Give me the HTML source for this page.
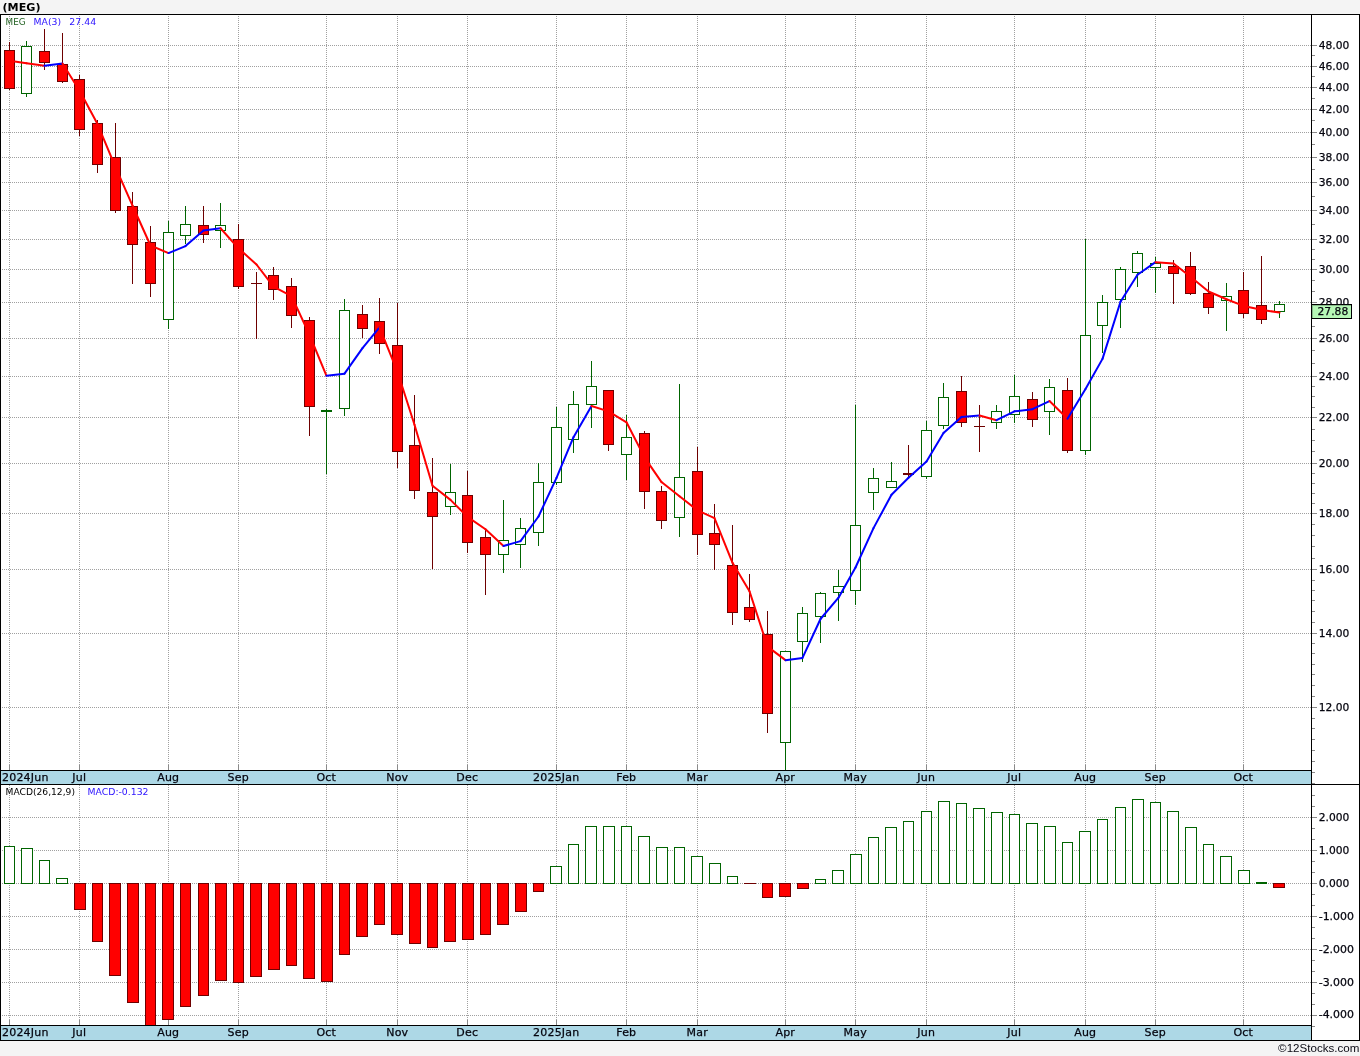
<!DOCTYPE html>
<html lang="en"><head><meta charset="utf-8"><title>(MEG)</title>
<style>html,body{margin:0;padding:0;background:#f4f4f4;overflow:hidden}svg{display:block}</style>
</head><body>
<svg width="1360" height="1056" viewBox="0 0 1360 1056" style="display:block">
<rect x="0" y="0" width="1360" height="1056" fill="#f4f4f4"/>
<rect x="0" y="14" width="1360" height="1027" fill="#ffffff" shape-rendering="crispEdges"/>
<rect x="1" y="771" width="1310" height="13" fill="#add8e6" shape-rendering="crispEdges"/>
<rect x="1" y="1026" width="1310" height="14" fill="#add8e6" shape-rendering="crispEdges"/>
<g stroke="#a0a0a0" stroke-width="1" stroke-dasharray="1,1" shape-rendering="crispEdges" fill="none">
<line x1="0" y1="45.5" x2="1311" y2="45.5"/>
<line x1="0" y1="66.5" x2="1311" y2="66.5"/>
<line x1="0" y1="87.5" x2="1311" y2="87.5"/>
<line x1="0" y1="109.5" x2="1311" y2="109.5"/>
<line x1="0" y1="132.5" x2="1311" y2="132.5"/>
<line x1="0" y1="157.5" x2="1311" y2="157.5"/>
<line x1="0" y1="182.5" x2="1311" y2="182.5"/>
<line x1="0" y1="210.5" x2="1311" y2="210.5"/>
<line x1="0" y1="239.5" x2="1311" y2="239.5"/>
<line x1="0" y1="269.5" x2="1311" y2="269.5"/>
<line x1="0" y1="302.5" x2="1311" y2="302.5"/>
<line x1="0" y1="338.5" x2="1311" y2="338.5"/>
<line x1="0" y1="376.5" x2="1311" y2="376.5"/>
<line x1="0" y1="417.5" x2="1311" y2="417.5"/>
<line x1="0" y1="463.5" x2="1311" y2="463.5"/>
<line x1="0" y1="513.5" x2="1311" y2="513.5"/>
<line x1="0" y1="569.5" x2="1311" y2="569.5"/>
<line x1="0" y1="633.5" x2="1311" y2="633.5"/>
<line x1="0" y1="707.5" x2="1311" y2="707.5"/>
<line x1="9.5" y1="16" x2="9.5" y2="765"/>
<line x1="9.5" y1="785" x2="9.5" y2="1020"/>
<line x1="79.5" y1="16" x2="79.5" y2="765"/>
<line x1="79.5" y1="785" x2="79.5" y2="1020"/>
<line x1="168.5" y1="16" x2="168.5" y2="765"/>
<line x1="168.5" y1="785" x2="168.5" y2="1020"/>
<line x1="238.5" y1="16" x2="238.5" y2="765"/>
<line x1="238.5" y1="785" x2="238.5" y2="1020"/>
<line x1="326.5" y1="16" x2="326.5" y2="765"/>
<line x1="326.5" y1="785" x2="326.5" y2="1020"/>
<line x1="397.5" y1="16" x2="397.5" y2="765"/>
<line x1="397.5" y1="785" x2="397.5" y2="1020"/>
<line x1="467.5" y1="16" x2="467.5" y2="765"/>
<line x1="467.5" y1="785" x2="467.5" y2="1020"/>
<line x1="556.5" y1="16" x2="556.5" y2="765"/>
<line x1="556.5" y1="785" x2="556.5" y2="1020"/>
<line x1="626.5" y1="16" x2="626.5" y2="765"/>
<line x1="626.5" y1="785" x2="626.5" y2="1020"/>
<line x1="697.5" y1="16" x2="697.5" y2="765"/>
<line x1="697.5" y1="785" x2="697.5" y2="1020"/>
<line x1="785.5" y1="16" x2="785.5" y2="765"/>
<line x1="785.5" y1="785" x2="785.5" y2="1020"/>
<line x1="855.5" y1="16" x2="855.5" y2="765"/>
<line x1="855.5" y1="785" x2="855.5" y2="1020"/>
<line x1="926.5" y1="16" x2="926.5" y2="765"/>
<line x1="926.5" y1="785" x2="926.5" y2="1020"/>
<line x1="1014.5" y1="16" x2="1014.5" y2="765"/>
<line x1="1014.5" y1="785" x2="1014.5" y2="1020"/>
<line x1="1085.5" y1="16" x2="1085.5" y2="765"/>
<line x1="1085.5" y1="785" x2="1085.5" y2="1020"/>
<line x1="1155.5" y1="16" x2="1155.5" y2="765"/>
<line x1="1155.5" y1="785" x2="1155.5" y2="1020"/>
<line x1="1243.5" y1="16" x2="1243.5" y2="765"/>
<line x1="1243.5" y1="785" x2="1243.5" y2="1020"/>
<line x1="0" y1="817.5" x2="1311" y2="817.5"/>
<line x1="0" y1="850.5" x2="1311" y2="850.5"/>
<line x1="0" y1="883.5" x2="1311" y2="883.5"/>
<line x1="0" y1="916.5" x2="1311" y2="916.5"/>
<line x1="0" y1="949.5" x2="1311" y2="949.5"/>
<line x1="0" y1="982.5" x2="1311" y2="982.5"/>
<line x1="0" y1="1015.5" x2="1311" y2="1015.5"/>
</g>
<g stroke="#8a8a8a" stroke-width="1" shape-rendering="crispEdges">
<line x1="9.5" y1="765" x2="9.5" y2="770"/>
<line x1="9.5" y1="1020" x2="9.5" y2="1025"/>
<line x1="79.5" y1="765" x2="79.5" y2="770"/>
<line x1="79.5" y1="1020" x2="79.5" y2="1025"/>
<line x1="168.5" y1="765" x2="168.5" y2="770"/>
<line x1="168.5" y1="1020" x2="168.5" y2="1025"/>
<line x1="238.5" y1="765" x2="238.5" y2="770"/>
<line x1="238.5" y1="1020" x2="238.5" y2="1025"/>
<line x1="326.5" y1="765" x2="326.5" y2="770"/>
<line x1="326.5" y1="1020" x2="326.5" y2="1025"/>
<line x1="397.5" y1="765" x2="397.5" y2="770"/>
<line x1="397.5" y1="1020" x2="397.5" y2="1025"/>
<line x1="467.5" y1="765" x2="467.5" y2="770"/>
<line x1="467.5" y1="1020" x2="467.5" y2="1025"/>
<line x1="556.5" y1="765" x2="556.5" y2="770"/>
<line x1="556.5" y1="1020" x2="556.5" y2="1025"/>
<line x1="626.5" y1="765" x2="626.5" y2="770"/>
<line x1="626.5" y1="1020" x2="626.5" y2="1025"/>
<line x1="697.5" y1="765" x2="697.5" y2="770"/>
<line x1="697.5" y1="1020" x2="697.5" y2="1025"/>
<line x1="785.5" y1="765" x2="785.5" y2="770"/>
<line x1="785.5" y1="1020" x2="785.5" y2="1025"/>
<line x1="855.5" y1="765" x2="855.5" y2="770"/>
<line x1="855.5" y1="1020" x2="855.5" y2="1025"/>
<line x1="926.5" y1="765" x2="926.5" y2="770"/>
<line x1="926.5" y1="1020" x2="926.5" y2="1025"/>
<line x1="1014.5" y1="765" x2="1014.5" y2="770"/>
<line x1="1014.5" y1="1020" x2="1014.5" y2="1025"/>
<line x1="1085.5" y1="765" x2="1085.5" y2="770"/>
<line x1="1085.5" y1="1020" x2="1085.5" y2="1025"/>
<line x1="1155.5" y1="765" x2="1155.5" y2="770"/>
<line x1="1155.5" y1="1020" x2="1155.5" y2="1025"/>
<line x1="1243.5" y1="765" x2="1243.5" y2="770"/>
<line x1="1243.5" y1="1020" x2="1243.5" y2="1025"/>
<line x1="1312" y1="45.5" x2="1317" y2="45.5"/>
<line x1="1312" y1="66.5" x2="1317" y2="66.5"/>
<line x1="1312" y1="87.5" x2="1317" y2="87.5"/>
<line x1="1312" y1="109.5" x2="1317" y2="109.5"/>
<line x1="1312" y1="132.5" x2="1317" y2="132.5"/>
<line x1="1312" y1="157.5" x2="1317" y2="157.5"/>
<line x1="1312" y1="182.5" x2="1317" y2="182.5"/>
<line x1="1312" y1="210.5" x2="1317" y2="210.5"/>
<line x1="1312" y1="239.5" x2="1317" y2="239.5"/>
<line x1="1312" y1="269.5" x2="1317" y2="269.5"/>
<line x1="1312" y1="302.5" x2="1317" y2="302.5"/>
<line x1="1312" y1="338.5" x2="1317" y2="338.5"/>
<line x1="1312" y1="376.5" x2="1317" y2="376.5"/>
<line x1="1312" y1="417.5" x2="1317" y2="417.5"/>
<line x1="1312" y1="463.5" x2="1317" y2="463.5"/>
<line x1="1312" y1="513.5" x2="1317" y2="513.5"/>
<line x1="1312" y1="569.5" x2="1317" y2="569.5"/>
<line x1="1312" y1="633.5" x2="1317" y2="633.5"/>
<line x1="1312" y1="707.5" x2="1317" y2="707.5"/>
<line x1="1312" y1="55.5" x2="1315" y2="55.5"/>
<line x1="1312" y1="76.5" x2="1315" y2="76.5"/>
<line x1="1312" y1="98.5" x2="1315" y2="98.5"/>
<line x1="1312" y1="120.5" x2="1315" y2="120.5"/>
<line x1="1312" y1="144.5" x2="1315" y2="144.5"/>
<line x1="1312" y1="169.5" x2="1315" y2="169.5"/>
<line x1="1312" y1="196.5" x2="1315" y2="196.5"/>
<line x1="1312" y1="224.5" x2="1315" y2="224.5"/>
<line x1="1312" y1="249.5" x2="1315" y2="249.5"/>
<line x1="1312" y1="259.5" x2="1315" y2="259.5"/>
<line x1="1312" y1="280.5" x2="1315" y2="280.5"/>
<line x1="1312" y1="291.5" x2="1315" y2="291.5"/>
<line x1="1312" y1="314.5" x2="1315" y2="314.5"/>
<line x1="1312" y1="326.5" x2="1315" y2="326.5"/>
<line x1="1312" y1="350.5" x2="1315" y2="350.5"/>
<line x1="1312" y1="363.5" x2="1315" y2="363.5"/>
<line x1="1312" y1="386.5" x2="1315" y2="386.5"/>
<line x1="1312" y1="396.5" x2="1315" y2="396.5"/>
<line x1="1312" y1="407.5" x2="1315" y2="407.5"/>
<line x1="1312" y1="429.5" x2="1315" y2="429.5"/>
<line x1="1312" y1="440.5" x2="1315" y2="440.5"/>
<line x1="1312" y1="451.5" x2="1315" y2="451.5"/>
<line x1="1312" y1="473.5" x2="1315" y2="473.5"/>
<line x1="1312" y1="483.5" x2="1315" y2="483.5"/>
<line x1="1312" y1="493.5" x2="1315" y2="493.5"/>
<line x1="1312" y1="503.5" x2="1315" y2="503.5"/>
<line x1="1312" y1="524.5" x2="1315" y2="524.5"/>
<line x1="1312" y1="535.5" x2="1315" y2="535.5"/>
<line x1="1312" y1="546.5" x2="1315" y2="546.5"/>
<line x1="1312" y1="558.5" x2="1315" y2="558.5"/>
<line x1="1312" y1="580.5" x2="1315" y2="580.5"/>
<line x1="1312" y1="590.5" x2="1315" y2="590.5"/>
<line x1="1312" y1="600.5" x2="1315" y2="600.5"/>
<line x1="1312" y1="611.5" x2="1315" y2="611.5"/>
<line x1="1312" y1="622.5" x2="1315" y2="622.5"/>
<line x1="1312" y1="643.5" x2="1315" y2="643.5"/>
<line x1="1312" y1="653.5" x2="1315" y2="653.5"/>
<line x1="1312" y1="664.5" x2="1315" y2="664.5"/>
<line x1="1312" y1="674.5" x2="1315" y2="674.5"/>
<line x1="1312" y1="685.5" x2="1315" y2="685.5"/>
<line x1="1312" y1="696.5" x2="1315" y2="696.5"/>
<line x1="1312" y1="718.5" x2="1315" y2="718.5"/>
<line x1="1312" y1="728.5" x2="1315" y2="728.5"/>
<line x1="1312" y1="739.5" x2="1315" y2="739.5"/>
<line x1="1312" y1="750.5" x2="1315" y2="750.5"/>
<line x1="1312" y1="761.5" x2="1315" y2="761.5"/>
<line x1="1312" y1="772.5" x2="1315" y2="772.5"/>
<line x1="1312" y1="783.5" x2="1315" y2="783.5"/>
<line x1="1312" y1="817.5" x2="1317" y2="817.5"/>
<line x1="1312" y1="850.5" x2="1317" y2="850.5"/>
<line x1="1312" y1="883.5" x2="1317" y2="883.5"/>
<line x1="1312" y1="916.5" x2="1317" y2="916.5"/>
<line x1="1312" y1="949.5" x2="1317" y2="949.5"/>
<line x1="1312" y1="982.5" x2="1317" y2="982.5"/>
<line x1="1312" y1="1015.5" x2="1317" y2="1015.5"/>
<line x1="1312" y1="795.5" x2="1315" y2="795.5"/>
<line x1="1312" y1="806.5" x2="1315" y2="806.5"/>
<line x1="1312" y1="828.5" x2="1315" y2="828.5"/>
<line x1="1312" y1="839.5" x2="1315" y2="839.5"/>
<line x1="1312" y1="861.5" x2="1315" y2="861.5"/>
<line x1="1312" y1="872.5" x2="1315" y2="872.5"/>
<line x1="1312" y1="894.5" x2="1315" y2="894.5"/>
<line x1="1312" y1="905.5" x2="1315" y2="905.5"/>
<line x1="1312" y1="927.5" x2="1315" y2="927.5"/>
<line x1="1312" y1="938.5" x2="1315" y2="938.5"/>
<line x1="1312" y1="960.5" x2="1315" y2="960.5"/>
<line x1="1312" y1="971.5" x2="1315" y2="971.5"/>
<line x1="1312" y1="993.5" x2="1315" y2="993.5"/>
<line x1="1312" y1="1004.5" x2="1315" y2="1004.5"/>
<line x1="1312" y1="1026.5" x2="1315" y2="1026.5"/>
</g>
<g shape-rendering="crispEdges" stroke-width="1">
<rect x="4.5" y="846.5" width="10" height="37" fill="#ffffff" stroke="#006400"/>
<rect x="21.5" y="848.5" width="11" height="35" fill="#ffffff" stroke="#006400"/>
<rect x="39.5" y="860.5" width="10" height="23" fill="#ffffff" stroke="#006400"/>
<rect x="56.5" y="878.5" width="11" height="5" fill="#ffffff" stroke="#006400"/>
<rect x="74.5" y="883.5" width="11" height="26" fill="#ff0000" stroke="#6e0000"/>
<rect x="92.5" y="883.5" width="10" height="58" fill="#ff0000" stroke="#6e0000"/>
<rect x="109.5" y="883.5" width="11" height="92" fill="#ff0000" stroke="#6e0000"/>
<rect x="127.5" y="883.5" width="11" height="119" fill="#ff0000" stroke="#6e0000"/>
<rect x="145.5" y="883.5" width="10" height="142" fill="#ff0000" stroke="#6e0000"/>
<rect x="162.5" y="883.5" width="11" height="136" fill="#ff0000" stroke="#6e0000"/>
<rect x="180.5" y="883.5" width="10" height="123" fill="#ff0000" stroke="#6e0000"/>
<rect x="198.5" y="883.5" width="10" height="112" fill="#ff0000" stroke="#6e0000"/>
<rect x="215.5" y="883.5" width="11" height="97" fill="#ff0000" stroke="#6e0000"/>
<rect x="233.5" y="883.5" width="10" height="99" fill="#ff0000" stroke="#6e0000"/>
<rect x="250.5" y="883.5" width="11" height="93" fill="#ff0000" stroke="#6e0000"/>
<rect x="268.5" y="883.5" width="11" height="86" fill="#ff0000" stroke="#6e0000"/>
<rect x="286.5" y="883.5" width="10" height="82" fill="#ff0000" stroke="#6e0000"/>
<rect x="303.5" y="883.5" width="11" height="95" fill="#ff0000" stroke="#6e0000"/>
<rect x="321.5" y="883.5" width="11" height="98" fill="#ff0000" stroke="#6e0000"/>
<rect x="339.5" y="883.5" width="10" height="71" fill="#ff0000" stroke="#6e0000"/>
<rect x="356.5" y="883.5" width="11" height="53" fill="#ff0000" stroke="#6e0000"/>
<rect x="374.5" y="883.5" width="10" height="41" fill="#ff0000" stroke="#6e0000"/>
<rect x="391.5" y="883.5" width="11" height="51" fill="#ff0000" stroke="#6e0000"/>
<rect x="409.5" y="883.5" width="11" height="60" fill="#ff0000" stroke="#6e0000"/>
<rect x="427.5" y="883.5" width="10" height="64" fill="#ff0000" stroke="#6e0000"/>
<rect x="444.5" y="883.5" width="11" height="58" fill="#ff0000" stroke="#6e0000"/>
<rect x="462.5" y="883.5" width="11" height="56" fill="#ff0000" stroke="#6e0000"/>
<rect x="480.5" y="883.5" width="10" height="51" fill="#ff0000" stroke="#6e0000"/>
<rect x="497.5" y="883.5" width="11" height="41" fill="#ff0000" stroke="#6e0000"/>
<rect x="515.5" y="883.5" width="11" height="28" fill="#ff0000" stroke="#6e0000"/>
<rect x="533.5" y="883.5" width="10" height="8" fill="#ff0000" stroke="#6e0000"/>
<rect x="550.5" y="866.5" width="11" height="17" fill="#ffffff" stroke="#006400"/>
<rect x="568.5" y="844.5" width="10" height="39" fill="#ffffff" stroke="#006400"/>
<rect x="585.5" y="826.5" width="11" height="57" fill="#ffffff" stroke="#006400"/>
<rect x="603.5" y="826.5" width="11" height="57" fill="#ffffff" stroke="#006400"/>
<rect x="621.5" y="826.5" width="10" height="57" fill="#ffffff" stroke="#006400"/>
<rect x="638.5" y="836.5" width="11" height="47" fill="#ffffff" stroke="#006400"/>
<rect x="656.5" y="847.5" width="11" height="36" fill="#ffffff" stroke="#006400"/>
<rect x="674.5" y="847.5" width="10" height="36" fill="#ffffff" stroke="#006400"/>
<rect x="691.5" y="856.5" width="11" height="27" fill="#ffffff" stroke="#006400"/>
<rect x="709.5" y="863.5" width="11" height="20" fill="#ffffff" stroke="#006400"/>
<rect x="727.5" y="876.5" width="10" height="7" fill="#ffffff" stroke="#006400"/>
<rect x="744" y="883" width="12" height="1" fill="#6e0000" stroke="none"/>
<rect x="762.5" y="883.5" width="10" height="14" fill="#ff0000" stroke="#6e0000"/>
<rect x="779.5" y="883.5" width="11" height="13" fill="#ff0000" stroke="#6e0000"/>
<rect x="797.5" y="883.5" width="11" height="5" fill="#ff0000" stroke="#6e0000"/>
<rect x="815.5" y="879.5" width="10" height="4" fill="#ffffff" stroke="#006400"/>
<rect x="832.5" y="870.5" width="11" height="13" fill="#ffffff" stroke="#006400"/>
<rect x="850.5" y="854.5" width="11" height="29" fill="#ffffff" stroke="#006400"/>
<rect x="868.5" y="837.5" width="10" height="46" fill="#ffffff" stroke="#006400"/>
<rect x="885.5" y="827.5" width="11" height="56" fill="#ffffff" stroke="#006400"/>
<rect x="903.5" y="821.5" width="10" height="62" fill="#ffffff" stroke="#006400"/>
<rect x="921.5" y="811.5" width="10" height="72" fill="#ffffff" stroke="#006400"/>
<rect x="938.5" y="801.5" width="11" height="82" fill="#ffffff" stroke="#006400"/>
<rect x="956.5" y="803.5" width="10" height="80" fill="#ffffff" stroke="#006400"/>
<rect x="973.5" y="808.5" width="11" height="75" fill="#ffffff" stroke="#006400"/>
<rect x="991.5" y="812.5" width="11" height="71" fill="#ffffff" stroke="#006400"/>
<rect x="1009.5" y="814.5" width="10" height="69" fill="#ffffff" stroke="#006400"/>
<rect x="1026.5" y="823.5" width="11" height="60" fill="#ffffff" stroke="#006400"/>
<rect x="1044.5" y="826.5" width="11" height="57" fill="#ffffff" stroke="#006400"/>
<rect x="1062.5" y="842.5" width="10" height="41" fill="#ffffff" stroke="#006400"/>
<rect x="1079.5" y="831.5" width="11" height="52" fill="#ffffff" stroke="#006400"/>
<rect x="1097.5" y="819.5" width="10" height="64" fill="#ffffff" stroke="#006400"/>
<rect x="1115.5" y="807.5" width="10" height="76" fill="#ffffff" stroke="#006400"/>
<rect x="1132.5" y="799.5" width="11" height="84" fill="#ffffff" stroke="#006400"/>
<rect x="1150.5" y="802.5" width="10" height="81" fill="#ffffff" stroke="#006400"/>
<rect x="1167.5" y="811.5" width="11" height="72" fill="#ffffff" stroke="#006400"/>
<rect x="1185.5" y="827.5" width="11" height="56" fill="#ffffff" stroke="#006400"/>
<rect x="1203.5" y="844.5" width="10" height="39" fill="#ffffff" stroke="#006400"/>
<rect x="1220.5" y="856.5" width="11" height="27" fill="#ffffff" stroke="#006400"/>
<rect x="1238.5" y="870.5" width="11" height="13" fill="#ffffff" stroke="#006400"/>
<rect x="1256" y="882" width="11" height="2" fill="#006400" stroke="none"/>
<rect x="1273.5" y="883.5" width="11" height="4" fill="#ff0000" stroke="#6e0000"/>
</g>
<g shape-rendering="crispEdges" stroke-width="1">
<rect x="9" y="42" width="1" height="48" fill="#6e0000" stroke="none"/>
<rect x="4.5" y="50.5" width="10" height="38" fill="#ff0000" stroke="#6e0000"/>
<rect x="26" y="41" width="1" height="56" fill="#006400" stroke="none"/>
<rect x="21.5" y="46.5" width="10" height="47" fill="#ffffff" stroke="#006400"/>
<rect x="44" y="29" width="1" height="41" fill="#6e0000" stroke="none"/>
<rect x="39.5" y="51.5" width="10" height="11" fill="#ff0000" stroke="#6e0000"/>
<rect x="62" y="33" width="1" height="50" fill="#6e0000" stroke="none"/>
<rect x="57.5" y="64.5" width="10" height="17" fill="#ff0000" stroke="#6e0000"/>
<rect x="79" y="75" width="1" height="61" fill="#6e0000" stroke="none"/>
<rect x="74.5" y="79.5" width="10" height="50" fill="#ff0000" stroke="#6e0000"/>
<rect x="97" y="120" width="1" height="53" fill="#6e0000" stroke="none"/>
<rect x="92.5" y="123.5" width="10" height="41" fill="#ff0000" stroke="#6e0000"/>
<rect x="115" y="123" width="1" height="90" fill="#6e0000" stroke="none"/>
<rect x="110.5" y="157.5" width="10" height="53" fill="#ff0000" stroke="#6e0000"/>
<rect x="132" y="192" width="1" height="92" fill="#6e0000" stroke="none"/>
<rect x="127.5" y="206.5" width="10" height="38" fill="#ff0000" stroke="#6e0000"/>
<rect x="150" y="226" width="1" height="71" fill="#6e0000" stroke="none"/>
<rect x="145.5" y="242.5" width="10" height="41" fill="#ff0000" stroke="#6e0000"/>
<rect x="168" y="221" width="1" height="108" fill="#006400" stroke="none"/>
<rect x="163.5" y="232.5" width="10" height="87" fill="#ffffff" stroke="#006400"/>
<rect x="185" y="206" width="1" height="38" fill="#006400" stroke="none"/>
<rect x="180.5" y="224.5" width="10" height="11" fill="#ffffff" stroke="#006400"/>
<rect x="203" y="206" width="1" height="37" fill="#6e0000" stroke="none"/>
<rect x="198.5" y="225.5" width="10" height="9" fill="#ff0000" stroke="#6e0000"/>
<rect x="220" y="203" width="1" height="45" fill="#006400" stroke="none"/>
<rect x="215.5" y="225.5" width="10" height="5" fill="#ffffff" stroke="#006400"/>
<rect x="238" y="224" width="1" height="65" fill="#6e0000" stroke="none"/>
<rect x="233.5" y="239.5" width="10" height="47" fill="#ff0000" stroke="#6e0000"/>
<rect x="256" y="272" width="1" height="67" fill="#6e0000" stroke="none"/>
<rect x="251" y="283" width="11" height="1" fill="#6e0000" stroke="none"/>
<rect x="273" y="267" width="1" height="33" fill="#6e0000" stroke="none"/>
<rect x="268.5" y="275.5" width="10" height="14" fill="#ff0000" stroke="#6e0000"/>
<rect x="291" y="278" width="1" height="50" fill="#6e0000" stroke="none"/>
<rect x="286.5" y="286.5" width="10" height="29" fill="#ff0000" stroke="#6e0000"/>
<rect x="309" y="317" width="1" height="119" fill="#6e0000" stroke="none"/>
<rect x="304.5" y="320.5" width="10" height="86" fill="#ff0000" stroke="#6e0000"/>
<rect x="326" y="409" width="1" height="65" fill="#006400" stroke="none"/>
<rect x="321" y="410" width="11" height="2" fill="#006400" stroke="none"/>
<rect x="344" y="299" width="1" height="117" fill="#006400" stroke="none"/>
<rect x="339.5" y="310.5" width="10" height="98" fill="#ffffff" stroke="#006400"/>
<rect x="362" y="305" width="1" height="33" fill="#6e0000" stroke="none"/>
<rect x="357.5" y="314.5" width="10" height="14" fill="#ff0000" stroke="#6e0000"/>
<rect x="379" y="298" width="1" height="56" fill="#6e0000" stroke="none"/>
<rect x="374.5" y="321.5" width="10" height="22" fill="#ff0000" stroke="#6e0000"/>
<rect x="397" y="303" width="1" height="165" fill="#6e0000" stroke="none"/>
<rect x="392.5" y="345.5" width="10" height="106" fill="#ff0000" stroke="#6e0000"/>
<rect x="414" y="395" width="1" height="104" fill="#6e0000" stroke="none"/>
<rect x="409.5" y="445.5" width="10" height="45" fill="#ff0000" stroke="#6e0000"/>
<rect x="432" y="458" width="1" height="111" fill="#6e0000" stroke="none"/>
<rect x="427.5" y="492.5" width="10" height="24" fill="#ff0000" stroke="#6e0000"/>
<rect x="450" y="464" width="1" height="51" fill="#006400" stroke="none"/>
<rect x="445.5" y="492.5" width="10" height="14" fill="#ffffff" stroke="#006400"/>
<rect x="467" y="471" width="1" height="82" fill="#6e0000" stroke="none"/>
<rect x="462.5" y="495.5" width="10" height="47" fill="#ff0000" stroke="#6e0000"/>
<rect x="485" y="530" width="1" height="65" fill="#6e0000" stroke="none"/>
<rect x="480.5" y="537.5" width="10" height="17" fill="#ff0000" stroke="#6e0000"/>
<rect x="503" y="500" width="1" height="73" fill="#006400" stroke="none"/>
<rect x="498.5" y="540.5" width="10" height="14" fill="#ffffff" stroke="#006400"/>
<rect x="520" y="518" width="1" height="50" fill="#006400" stroke="none"/>
<rect x="515.5" y="528.5" width="10" height="16" fill="#ffffff" stroke="#006400"/>
<rect x="538" y="463" width="1" height="83" fill="#006400" stroke="none"/>
<rect x="533.5" y="482.5" width="10" height="50" fill="#ffffff" stroke="#006400"/>
<rect x="556" y="407" width="1" height="78" fill="#006400" stroke="none"/>
<rect x="551.5" y="427.5" width="10" height="55" fill="#ffffff" stroke="#006400"/>
<rect x="573" y="391" width="1" height="62" fill="#006400" stroke="none"/>
<rect x="568.5" y="404.5" width="10" height="35" fill="#ffffff" stroke="#006400"/>
<rect x="591" y="361" width="1" height="67" fill="#006400" stroke="none"/>
<rect x="586.5" y="386.5" width="10" height="18" fill="#ffffff" stroke="#006400"/>
<rect x="608" y="390" width="1" height="61" fill="#6e0000" stroke="none"/>
<rect x="603.5" y="390.5" width="10" height="54" fill="#ff0000" stroke="#6e0000"/>
<rect x="626" y="415" width="1" height="65" fill="#006400" stroke="none"/>
<rect x="621.5" y="437.5" width="10" height="17" fill="#ffffff" stroke="#006400"/>
<rect x="644" y="431" width="1" height="78" fill="#6e0000" stroke="none"/>
<rect x="639.5" y="433.5" width="10" height="58" fill="#ff0000" stroke="#6e0000"/>
<rect x="661" y="486" width="1" height="43" fill="#6e0000" stroke="none"/>
<rect x="656.5" y="491.5" width="10" height="29" fill="#ff0000" stroke="#6e0000"/>
<rect x="679" y="384" width="1" height="153" fill="#006400" stroke="none"/>
<rect x="674.5" y="477.5" width="10" height="40" fill="#ffffff" stroke="#006400"/>
<rect x="697" y="447" width="1" height="108" fill="#6e0000" stroke="none"/>
<rect x="692.5" y="471.5" width="10" height="63" fill="#ff0000" stroke="#6e0000"/>
<rect x="714" y="504" width="1" height="66" fill="#6e0000" stroke="none"/>
<rect x="709.5" y="533.5" width="10" height="11" fill="#ff0000" stroke="#6e0000"/>
<rect x="732" y="525" width="1" height="100" fill="#6e0000" stroke="none"/>
<rect x="727.5" y="565.5" width="10" height="47" fill="#ff0000" stroke="#6e0000"/>
<rect x="749" y="574" width="1" height="48" fill="#6e0000" stroke="none"/>
<rect x="744.5" y="607.5" width="10" height="12" fill="#ff0000" stroke="#6e0000"/>
<rect x="767" y="611" width="1" height="122" fill="#6e0000" stroke="none"/>
<rect x="762.5" y="634.5" width="10" height="79" fill="#ff0000" stroke="#6e0000"/>
<rect x="785" y="651" width="1" height="119" fill="#006400" stroke="none"/>
<rect x="780.5" y="651.5" width="10" height="91" fill="#ffffff" stroke="#006400"/>
<rect x="802" y="607" width="1" height="55" fill="#006400" stroke="none"/>
<rect x="797.5" y="613.5" width="10" height="28" fill="#ffffff" stroke="#006400"/>
<rect x="820" y="592" width="1" height="51" fill="#006400" stroke="none"/>
<rect x="815.5" y="593.5" width="10" height="23" fill="#ffffff" stroke="#006400"/>
<rect x="838" y="570" width="1" height="51" fill="#006400" stroke="none"/>
<rect x="833.5" y="586.5" width="10" height="6" fill="#ffffff" stroke="#006400"/>
<rect x="855" y="405" width="1" height="200" fill="#006400" stroke="none"/>
<rect x="850.5" y="525.5" width="10" height="65" fill="#ffffff" stroke="#006400"/>
<rect x="873" y="468" width="1" height="42" fill="#006400" stroke="none"/>
<rect x="868.5" y="478.5" width="10" height="14" fill="#ffffff" stroke="#006400"/>
<rect x="891" y="462" width="1" height="26" fill="#006400" stroke="none"/>
<rect x="886.5" y="481.5" width="10" height="6" fill="#ffffff" stroke="#006400"/>
<rect x="908" y="445" width="1" height="32" fill="#6e0000" stroke="none"/>
<rect x="903" y="473" width="11" height="2" fill="#6e0000" stroke="none"/>
<rect x="926" y="421" width="1" height="58" fill="#006400" stroke="none"/>
<rect x="921.5" y="430.5" width="10" height="46" fill="#ffffff" stroke="#006400"/>
<rect x="943" y="383" width="1" height="46" fill="#006400" stroke="none"/>
<rect x="938.5" y="397.5" width="10" height="28" fill="#ffffff" stroke="#006400"/>
<rect x="961" y="376" width="1" height="51" fill="#6e0000" stroke="none"/>
<rect x="956.5" y="391.5" width="10" height="31" fill="#ff0000" stroke="#6e0000"/>
<rect x="979" y="405" width="1" height="47" fill="#6e0000" stroke="none"/>
<rect x="974" y="426" width="11" height="1" fill="#6e0000" stroke="none"/>
<rect x="996" y="405" width="1" height="24" fill="#006400" stroke="none"/>
<rect x="991.5" y="411.5" width="10" height="11" fill="#ffffff" stroke="#006400"/>
<rect x="1014" y="375" width="1" height="48" fill="#006400" stroke="none"/>
<rect x="1009.5" y="396.5" width="10" height="18" fill="#ffffff" stroke="#006400"/>
<rect x="1032" y="392" width="1" height="35" fill="#6e0000" stroke="none"/>
<rect x="1027.5" y="399.5" width="10" height="20" fill="#ff0000" stroke="#6e0000"/>
<rect x="1049" y="379" width="1" height="56" fill="#006400" stroke="none"/>
<rect x="1044.5" y="387.5" width="10" height="24" fill="#ffffff" stroke="#006400"/>
<rect x="1067" y="378" width="1" height="75" fill="#6e0000" stroke="none"/>
<rect x="1062.5" y="390.5" width="10" height="60" fill="#ff0000" stroke="#6e0000"/>
<rect x="1085" y="239" width="1" height="216" fill="#006400" stroke="none"/>
<rect x="1080.5" y="335.5" width="10" height="115" fill="#ffffff" stroke="#006400"/>
<rect x="1102" y="295" width="1" height="58" fill="#006400" stroke="none"/>
<rect x="1097.5" y="302.5" width="10" height="23" fill="#ffffff" stroke="#006400"/>
<rect x="1120" y="267" width="1" height="61" fill="#006400" stroke="none"/>
<rect x="1115.5" y="269.5" width="10" height="30" fill="#ffffff" stroke="#006400"/>
<rect x="1137" y="251" width="1" height="36" fill="#006400" stroke="none"/>
<rect x="1132.5" y="253.5" width="10" height="19" fill="#ffffff" stroke="#006400"/>
<rect x="1155" y="257" width="1" height="36" fill="#006400" stroke="none"/>
<rect x="1150.5" y="263.5" width="10" height="4" fill="#ffffff" stroke="#006400"/>
<rect x="1173" y="260" width="1" height="44" fill="#6e0000" stroke="none"/>
<rect x="1168.5" y="266.5" width="10" height="7" fill="#ff0000" stroke="#6e0000"/>
<rect x="1190" y="252" width="1" height="43" fill="#6e0000" stroke="none"/>
<rect x="1185.5" y="266.5" width="10" height="27" fill="#ff0000" stroke="#6e0000"/>
<rect x="1208" y="282" width="1" height="32" fill="#6e0000" stroke="none"/>
<rect x="1203.5" y="293.5" width="10" height="14" fill="#ff0000" stroke="#6e0000"/>
<rect x="1226" y="283" width="1" height="48" fill="#006400" stroke="none"/>
<rect x="1221.5" y="296.5" width="10" height="4" fill="#ffffff" stroke="#006400"/>
<rect x="1243" y="272" width="1" height="46" fill="#6e0000" stroke="none"/>
<rect x="1238.5" y="290.5" width="10" height="23" fill="#ff0000" stroke="#6e0000"/>
<rect x="1261" y="256" width="1" height="68" fill="#6e0000" stroke="none"/>
<rect x="1256.5" y="305.5" width="10" height="14" fill="#ff0000" stroke="#6e0000"/>
<rect x="1279" y="301" width="1" height="17" fill="#006400" stroke="none"/>
<rect x="1274.5" y="304.5" width="10" height="7" fill="#ffffff" stroke="#006400"/>
</g>
<g fill="none" stroke-width="2" stroke-linecap="round" stroke-linejoin="round">
<line x1="9.5" y1="60.75" x2="26.5" y2="63.25" stroke="#ff0000"/>
<line x1="26.5" y1="63.25" x2="44.5" y2="65.85" stroke="#ff0000"/>
<line x1="44.5" y1="65.85" x2="62.5" y2="63.54" stroke="#0000ff"/>
<line x1="62.5" y1="63.54" x2="79.5" y2="90.52" stroke="#ff0000"/>
<line x1="79.5" y1="90.52" x2="97.5" y2="124.04" stroke="#ff0000"/>
<line x1="97.5" y1="124.04" x2="115.5" y2="167.10" stroke="#ff0000"/>
<line x1="115.5" y1="167.10" x2="132.5" y2="205.53" stroke="#ff0000"/>
<line x1="132.5" y1="205.53" x2="150.5" y2="245.49" stroke="#ff0000"/>
<line x1="150.5" y1="245.49" x2="168.5" y2="253.08" stroke="#ff0000"/>
<line x1="168.5" y1="253.08" x2="185.5" y2="246.12" stroke="#0000ff"/>
<line x1="185.5" y1="246.12" x2="203.5" y2="230.48" stroke="#0000ff"/>
<line x1="203.5" y1="230.48" x2="220.5" y2="228.23" stroke="#0000ff"/>
<line x1="220.5" y1="228.23" x2="238.5" y2="248.33" stroke="#ff0000"/>
<line x1="238.5" y1="248.33" x2="256.5" y2="264.49" stroke="#ff0000"/>
<line x1="256.5" y1="264.49" x2="273.5" y2="286.66" stroke="#ff0000"/>
<line x1="273.5" y1="286.66" x2="291.5" y2="296.13" stroke="#ff0000"/>
<line x1="291.5" y1="296.13" x2="309.5" y2="334.76" stroke="#ff0000"/>
<line x1="309.5" y1="334.76" x2="326.5" y2="375.79" stroke="#ff0000"/>
<line x1="326.5" y1="375.79" x2="344.5" y2="373.70" stroke="#0000ff"/>
<line x1="344.5" y1="373.70" x2="362.5" y2="348.12" stroke="#0000ff"/>
<line x1="362.5" y1="348.12" x2="379.5" y2="327.47" stroke="#0000ff"/>
<line x1="379.5" y1="327.47" x2="397.5" y2="371.76" stroke="#ff0000"/>
<line x1="397.5" y1="371.76" x2="414.5" y2="424.70" stroke="#ff0000"/>
<line x1="414.5" y1="424.70" x2="432.5" y2="485.76" stroke="#ff0000"/>
<line x1="432.5" y1="485.76" x2="450.5" y2="499.85" stroke="#ff0000"/>
<line x1="450.5" y1="499.85" x2="467.5" y2="516.89" stroke="#ff0000"/>
<line x1="467.5" y1="516.89" x2="485.5" y2="529.23" stroke="#ff0000"/>
<line x1="485.5" y1="529.23" x2="503.5" y2="545.96" stroke="#ff0000"/>
<line x1="503.5" y1="545.96" x2="520.5" y2="541.13" stroke="#0000ff"/>
<line x1="520.5" y1="541.13" x2="538.5" y2="516.51" stroke="#0000ff"/>
<line x1="538.5" y1="516.51" x2="556.5" y2="477.80" stroke="#0000ff"/>
<line x1="556.5" y1="477.80" x2="573.5" y2="437.14" stroke="#0000ff"/>
<line x1="573.5" y1="437.14" x2="591.5" y2="406.04" stroke="#0000ff"/>
<line x1="591.5" y1="406.04" x2="608.5" y2="411.39" stroke="#ff0000"/>
<line x1="608.5" y1="411.39" x2="626.5" y2="422.29" stroke="#ff0000"/>
<line x1="626.5" y1="422.29" x2="644.5" y2="457.40" stroke="#ff0000"/>
<line x1="644.5" y1="457.40" x2="661.5" y2="482.08" stroke="#ff0000"/>
<line x1="661.5" y1="482.08" x2="679.5" y2="496.33" stroke="#ff0000"/>
<line x1="679.5" y1="496.33" x2="697.5" y2="510.37" stroke="#ff0000"/>
<line x1="697.5" y1="510.37" x2="714.5" y2="518.07" stroke="#ff0000"/>
<line x1="714.5" y1="518.07" x2="732.5" y2="562.85" stroke="#ff0000"/>
<line x1="732.5" y1="562.85" x2="749.5" y2="591.20" stroke="#ff0000"/>
<line x1="749.5" y1="591.20" x2="767.5" y2="646.58" stroke="#ff0000"/>
<line x1="767.5" y1="646.58" x2="785.5" y2="660.17" stroke="#ff0000"/>
<line x1="785.5" y1="660.17" x2="802.5" y2="657.90" stroke="#0000ff"/>
<line x1="802.5" y1="657.90" x2="820.5" y2="618.98" stroke="#0000ff"/>
<line x1="820.5" y1="618.98" x2="838.5" y2="597.70" stroke="#0000ff"/>
<line x1="838.5" y1="597.70" x2="855.5" y2="567.51" stroke="#0000ff"/>
<line x1="855.5" y1="567.51" x2="873.5" y2="528.13" stroke="#0000ff"/>
<line x1="873.5" y1="528.13" x2="891.5" y2="494.77" stroke="#0000ff"/>
<line x1="891.5" y1="494.77" x2="908.5" y2="477.82" stroke="#0000ff"/>
<line x1="908.5" y1="477.82" x2="926.5" y2="461.39" stroke="#0000ff"/>
<line x1="926.5" y1="461.39" x2="943.5" y2="432.92" stroke="#0000ff"/>
<line x1="943.5" y1="432.92" x2="961.5" y2="416.88" stroke="#0000ff"/>
<line x1="961.5" y1="416.88" x2="979.5" y2="415.50" stroke="#0000ff"/>
<line x1="979.5" y1="415.50" x2="996.5" y2="420.21" stroke="#ff0000"/>
<line x1="996.5" y1="420.21" x2="1014.5" y2="411.34" stroke="#0000ff"/>
<line x1="1014.5" y1="411.34" x2="1032.5" y2="409.15" stroke="#0000ff"/>
<line x1="1032.5" y1="409.15" x2="1049.5" y2="401.06" stroke="#0000ff"/>
<line x1="1049.5" y1="401.06" x2="1067.5" y2="418.71" stroke="#ff0000"/>
<line x1="1067.5" y1="418.71" x2="1085.5" y2="389.01" stroke="#0000ff"/>
<line x1="1085.5" y1="389.01" x2="1102.5" y2="358.87" stroke="#0000ff"/>
<line x1="1102.5" y1="358.87" x2="1120.5" y2="301.74" stroke="#0000ff"/>
<line x1="1120.5" y1="301.74" x2="1137.5" y2="274.73" stroke="#0000ff"/>
<line x1="1137.5" y1="274.73" x2="1155.5" y2="262.14" stroke="#0000ff"/>
<line x1="1155.5" y1="262.14" x2="1173.5" y2="263.50" stroke="#ff0000"/>
<line x1="1173.5" y1="263.50" x2="1190.5" y2="276.82" stroke="#ff0000"/>
<line x1="1190.5" y1="276.82" x2="1208.5" y2="291.51" stroke="#ff0000"/>
<line x1="1208.5" y1="291.51" x2="1226.5" y2="299.28" stroke="#ff0000"/>
<line x1="1226.5" y1="299.28" x2="1243.5" y2="305.90" stroke="#ff0000"/>
<line x1="1243.5" y1="305.90" x2="1261.5" y2="309.82" stroke="#ff0000"/>
<line x1="1261.5" y1="309.82" x2="1279.5" y2="312.58" stroke="#ff0000"/>
</g>
<g fill="#000000" shape-rendering="crispEdges">
<rect x="0" y="14" width="1360" height="1"/>
<rect x="0" y="14" width="1" height="1027"/>
<rect x="1359" y="14" width="1" height="1027"/>
<rect x="1311" y="14" width="1" height="1027"/>
<rect x="0" y="770" width="1312" height="1"/>
<rect x="0" y="784" width="1360" height="1"/>
<rect x="0" y="1025" width="1312" height="1"/>
<rect x="0" y="1040" width="1360" height="1"/>
</g>
<rect x="1311.5" y="304.5" width="40" height="14" fill="#b6f7b6" stroke="#000" stroke-width="1" shape-rendering="crispEdges"/>
<g font-family="'DejaVu Sans','Liberation Sans',sans-serif" fill="#05050f" stroke="#05050f" stroke-width="0.25">
<text x="1318.7" y="49.0" font-size="11" textLength="30.6" lengthAdjust="spacingAndGlyphs">48.00</text>
<text x="1318.7" y="70.0" font-size="11" textLength="30.6" lengthAdjust="spacingAndGlyphs">46.00</text>
<text x="1318.7" y="91.0" font-size="11" textLength="30.6" lengthAdjust="spacingAndGlyphs">44.00</text>
<text x="1318.7" y="113.0" font-size="11" textLength="30.6" lengthAdjust="spacingAndGlyphs">42.00</text>
<text x="1318.7" y="136.0" font-size="11" textLength="30.6" lengthAdjust="spacingAndGlyphs">40.00</text>
<text x="1318.7" y="161.0" font-size="11" textLength="30.6" lengthAdjust="spacingAndGlyphs">38.00</text>
<text x="1318.7" y="186.0" font-size="11" textLength="30.6" lengthAdjust="spacingAndGlyphs">36.00</text>
<text x="1318.7" y="214.0" font-size="11" textLength="30.6" lengthAdjust="spacingAndGlyphs">34.00</text>
<text x="1318.7" y="243.0" font-size="11" textLength="30.6" lengthAdjust="spacingAndGlyphs">32.00</text>
<text x="1318.7" y="273.0" font-size="11" textLength="30.6" lengthAdjust="spacingAndGlyphs">30.00</text>
<text x="1318.7" y="306.0" font-size="11" textLength="30.6" lengthAdjust="spacingAndGlyphs">28.00</text>
<text x="1318.7" y="342.0" font-size="11" textLength="30.6" lengthAdjust="spacingAndGlyphs">26.00</text>
<text x="1318.7" y="380.0" font-size="11" textLength="30.6" lengthAdjust="spacingAndGlyphs">24.00</text>
<text x="1318.7" y="421.0" font-size="11" textLength="30.6" lengthAdjust="spacingAndGlyphs">22.00</text>
<text x="1318.7" y="467.0" font-size="11" textLength="30.6" lengthAdjust="spacingAndGlyphs">20.00</text>
<text x="1318.7" y="517.0" font-size="11" textLength="30.6" lengthAdjust="spacingAndGlyphs">18.00</text>
<text x="1318.7" y="573.0" font-size="11" textLength="30.6" lengthAdjust="spacingAndGlyphs">16.00</text>
<text x="1318.7" y="637.0" font-size="11" textLength="30.6" lengthAdjust="spacingAndGlyphs">14.00</text>
<text x="1318.7" y="711.0" font-size="11" textLength="30.6" lengthAdjust="spacingAndGlyphs">12.00</text>
<rect x="1312" y="305" width="39" height="13" fill="#b6f7b6" shape-rendering="crispEdges"/>
<text x="1317.5" y="315" font-size="11" textLength="30.8" lengthAdjust="spacingAndGlyphs">27.88</text>
<text x="1318.7" y="821" font-size="11" textLength="30.6" lengthAdjust="spacingAndGlyphs">2.000</text>
<text x="1318.7" y="854" font-size="11" textLength="30.6" lengthAdjust="spacingAndGlyphs">1.000</text>
<text x="1318.7" y="887" font-size="11" textLength="30.6" lengthAdjust="spacingAndGlyphs">0.000</text>
<text x="1318.7" y="920" font-size="11" textLength="35.3" lengthAdjust="spacingAndGlyphs">-1.000</text>
<text x="1318.7" y="953" font-size="11" textLength="35.3" lengthAdjust="spacingAndGlyphs">-2.000</text>
<text x="1318.7" y="986" font-size="11" textLength="35.3" lengthAdjust="spacingAndGlyphs">-3.000</text>
<text x="1318.7" y="1018" font-size="11" textLength="35.3" lengthAdjust="spacingAndGlyphs">-4.000</text>
<text x="2" y="781" font-size="11" letter-spacing="0.2">2024Jun</text>
<text x="79.25" y="781" font-size="11" letter-spacing="0.2" text-anchor="middle">Jul</text>
<text x="168.25" y="781" font-size="11" letter-spacing="0.2" text-anchor="middle">Aug</text>
<text x="238.25" y="781" font-size="11" letter-spacing="0.2" text-anchor="middle">Sep</text>
<text x="326.25" y="781" font-size="11" letter-spacing="0.2" text-anchor="middle">Oct</text>
<text x="397.25" y="781" font-size="11" letter-spacing="0.2" text-anchor="middle">Nov</text>
<text x="467.25" y="781" font-size="11" letter-spacing="0.2" text-anchor="middle">Dec</text>
<text x="556.25" y="781" font-size="11" letter-spacing="0.2" text-anchor="middle">2025Jan</text>
<text x="626.25" y="781" font-size="11" letter-spacing="0.2" text-anchor="middle">Feb</text>
<text x="697.25" y="781" font-size="11" letter-spacing="0.2" text-anchor="middle">Mar</text>
<text x="785.25" y="781" font-size="11" letter-spacing="0.2" text-anchor="middle">Apr</text>
<text x="855.25" y="781" font-size="11" letter-spacing="0.2" text-anchor="middle">May</text>
<text x="926.25" y="781" font-size="11" letter-spacing="0.2" text-anchor="middle">Jun</text>
<text x="1014.25" y="781" font-size="11" letter-spacing="0.2" text-anchor="middle">Jul</text>
<text x="1085.25" y="781" font-size="11" letter-spacing="0.2" text-anchor="middle">Aug</text>
<text x="1155.25" y="781" font-size="11" letter-spacing="0.2" text-anchor="middle">Sep</text>
<text x="1243.25" y="781" font-size="11" letter-spacing="0.2" text-anchor="middle">Oct</text>
<text x="2" y="1036" font-size="11" letter-spacing="0.2">2024Jun</text>
<text x="79.25" y="1036" font-size="11" letter-spacing="0.2" text-anchor="middle">Jul</text>
<text x="168.25" y="1036" font-size="11" letter-spacing="0.2" text-anchor="middle">Aug</text>
<text x="238.25" y="1036" font-size="11" letter-spacing="0.2" text-anchor="middle">Sep</text>
<text x="326.25" y="1036" font-size="11" letter-spacing="0.2" text-anchor="middle">Oct</text>
<text x="397.25" y="1036" font-size="11" letter-spacing="0.2" text-anchor="middle">Nov</text>
<text x="467.25" y="1036" font-size="11" letter-spacing="0.2" text-anchor="middle">Dec</text>
<text x="556.25" y="1036" font-size="11" letter-spacing="0.2" text-anchor="middle">2025Jan</text>
<text x="626.25" y="1036" font-size="11" letter-spacing="0.2" text-anchor="middle">Feb</text>
<text x="697.25" y="1036" font-size="11" letter-spacing="0.2" text-anchor="middle">Mar</text>
<text x="785.25" y="1036" font-size="11" letter-spacing="0.2" text-anchor="middle">Apr</text>
<text x="855.25" y="1036" font-size="11" letter-spacing="0.2" text-anchor="middle">May</text>
<text x="926.25" y="1036" font-size="11" letter-spacing="0.2" text-anchor="middle">Jun</text>
<text x="1014.25" y="1036" font-size="11" letter-spacing="0.2" text-anchor="middle">Jul</text>
<text x="1085.25" y="1036" font-size="11" letter-spacing="0.2" text-anchor="middle">Aug</text>
<text x="1155.25" y="1036" font-size="11" letter-spacing="0.2" text-anchor="middle">Sep</text>
<text x="1243.25" y="1036" font-size="11" letter-spacing="0.2" text-anchor="middle">Oct</text>
</g>
<text x="2.5" y="10.7" font-family="'DejaVu Sans','Liberation Sans',sans-serif" font-weight="bold" font-size="11" fill="#000" textLength="38" lengthAdjust="spacingAndGlyphs">(MEG)</text>
<g font-family="'DejaVu Sans','Liberation Sans',sans-serif" font-size="9.1">
<text x="5.6" y="25" fill="#1f5f1f" textLength="20" lengthAdjust="spacingAndGlyphs">MEG</text>
<text x="33.6" y="25" fill="#2a10ff" textLength="27.5" lengthAdjust="spacingAndGlyphs">MA(3)</text>
<text x="69.3" y="25" fill="#2a10ff" textLength="27" lengthAdjust="spacingAndGlyphs">27.44</text>
<text x="5.5" y="795" fill="#000" textLength="69.5" lengthAdjust="spacingAndGlyphs">MACD(26,12,9)</text>
<text x="87.5" y="795" fill="#2a10ff" textLength="61" lengthAdjust="spacingAndGlyphs">MACD:-0.132</text>
</g>
<text x="1359.4" y="1052" font-family="'Liberation Sans',sans-serif" font-size="11.6" fill="#0a0a14" text-anchor="end" textLength="81.3" lengthAdjust="spacingAndGlyphs">©12Stocks.com</text>
</svg>
</body></html>
